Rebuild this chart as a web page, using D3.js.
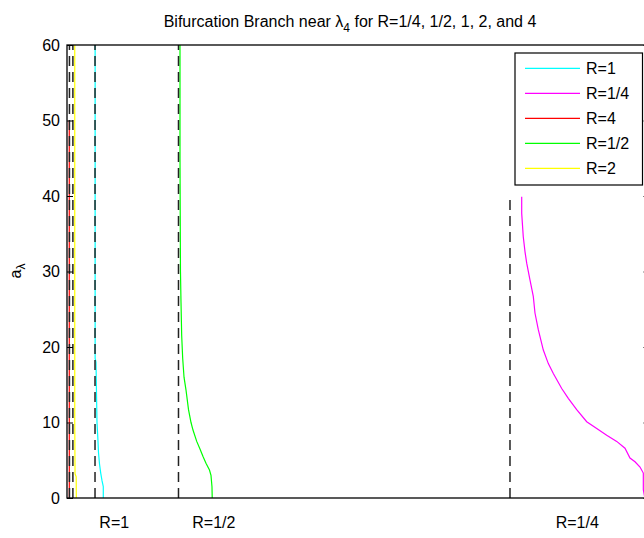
<!DOCTYPE html>
<html><head><meta charset="utf-8">
<script src="https://cdn.jsdelivr.net/npm/d3@7"></script>
<style>
body{margin:0;background:#fff}
svg{display:block}
text{font-family:Arial,"Liberation Sans",Helvetica,sans-serif;fill:#000}
</style>
</head><body>
<svg id="chart" width="644" height="538"></svg>
<script>
// ---------- data ----------
const yTicks = [0, 10, 20, 30, 40, 50, 60];
const seriesNames = ["R=1", "R=1/4", "R=4", "R=1/2", "R=2"];
const seriesColors = ["#00ffff", "#ff00ff", "#ff0000", "#00ff00", "#ffff00"];

// R=1 branch (cyan)
const r1Lambda = [4.83, 4.83, 4.98, 5.06, 5.15, 5.29, 5.41, 5.58, 5.79, 6.01, 6.23, 6.23];
const r1A      = [62, 18.5, 18, 14, 10, 8, 6, 4.5, 3.3, 2.3, 1.5, 0];
// R=1/4 branch (magenta)
const rQuarterLambda = [78.06, 78.06, 78.33, 78.63, 78.92, 79.48, 80.05, 80.34, 80.91, 81.77, 82.63, 83.49, 84.93, 86.06, 87.50, 89.22, 90.94, 92.65, 94.37, 95.79, 96.65, 97.51, 98.37, 98.94, 98.94, 99.2];
const rQuarterA      = [39.9, 37.7, 34.6, 32.6, 31.1, 28.9, 26.7, 24.5, 22.3, 19.6, 17.8, 16.5, 14.5, 13.2, 11.7, 10.1, 9.2, 8.3, 7.5, 6.6, 5.3, 4.8, 4.1, 3.3, 1.1, 0];
// R=4 branch (red)
const r4Lambda = [0.39, 0.39, 0.40];
const r4A      = [50, 20, 0];
// R=1/2 branch (green)
const rHalfLambda = [19.40, 19.40, 19.48, 19.57, 19.69, 19.86, 20.09, 20.43, 20.86, 21.29, 21.63, 22.27, 22.83, 23.35, 23.86, 24.46, 24.72, 24.89, 24.93];
const rHalfA      = [62, 45, 30, 26, 21.5, 18.5, 16, 14.3, 11.7, 10, 9, 7.5, 6.5, 5.5, 4.6, 3.7, 3.0, 1.5, 0];
// R=2 branch (yellow)
const r2Lambda = [1.33, 1.33, 1.38, 1.58, 1.60];
const r2A      = [62, 10, 3.2, 2.8, 0];

// bifurcation points (dashed asymptotes)
const asymptoteNames  = ["R=4", "R=2", "R=1", "R=1/2", "R=1/4"];
const asymptoteLambda = [0.42, 1.01, 4.81, 19.14, 76.05];
const asymptoteTop    = [62, 62, 62, 62, 39.5];

// labels under the axis (left edge position)
const axisLabelText   = ["R=1", "R=1/2", "R=1/4"];
const axisLabelLambda = [5.55, 21.5, 83.9];

// ---------- layout ----------
const m = {left: 67, top: 45, right: 649.5, bottom: 498};
const svg = d3.select("#chart");

const x = d3.scaleLinear().domain([0, 100]).range([m.left, m.right]);
const y = d3.scaleLinear().domain([0, 60]).range([m.bottom, m.top]);

svg.append("defs").append("clipPath").attr("id", "clip")
  .append("rect").attr("x", m.left).attr("y", m.top)
  .attr("width", m.right - m.left).attr("height", m.bottom - m.top);

const plot = svg.append("g").attr("clip-path", "url(#clip)");
const line = d3.line().x(d => x(d[0])).y(d => y(d[1]));

const series = [
  [r1Lambda, r1A], [rQuarterLambda, rQuarterA], [r4Lambda, r4A],
  [rHalfLambda, rHalfA], [r2Lambda, r2A]
];
series.forEach((s, i) => {
  const pts = s[0].map((v, j) => [v, s[1][j]]);
  plot.append("path").attr("d", line(pts))
    .attr("fill", "none").attr("stroke", seriesColors[i]).attr("stroke-width", 1.2);
});

asymptoteLambda.forEach((v, i) => {
  plot.append("path").attr("d", line([[v, 0], [v, asymptoteTop[i]]]))
    .attr("fill", "none").attr("stroke", "#222").attr("stroke-width", 1.5)
    .attr("stroke-dasharray", "10,6");
});

// axes
const yAxisL = d3.axisLeft(y).tickValues(yTicks).tickSizeInner(-6).tickSizeOuter(0).tickPadding(7);
const gL = svg.append("g").attr("transform", `translate(${m.left},0)`).call(yAxisL);
gL.select(".domain").remove();
gL.selectAll(".tick line").attr("stroke", "#000");
gL.selectAll(".tick text").attr("font-size", 16).attr("font-family", "Arial, 'Liberation Sans', sans-serif").attr("fill", "#000");

const yAxisR = d3.axisRight(y).tickValues(yTicks).tickSizeInner(-6).tickSizeOuter(0).tickFormat("");
const gR = svg.append("g").attr("transform", `translate(${m.right},0)`).call(yAxisR);
gR.select(".domain").remove();
gR.selectAll(".tick line").attr("stroke", "#000");

svg.append("rect").attr("x", m.left).attr("y", m.top)
  .attr("width", m.right - m.left).attr("height", m.bottom - m.top)
  .attr("fill", "none").attr("stroke", "#000").attr("stroke-width", 1.3);

// labels under axis
axisLabelText.forEach((t, i) => {
  svg.append("text").attr("x", x(axisLabelLambda[i])).attr("y", 528)
    .attr("text-anchor", "start").attr("font-size", 16).text(t);
});

// title
const title = svg.append("text").attr("x", 350).attr("y", 27)
  .attr("text-anchor", "middle").attr("font-size", 16);
title.append("tspan").text("Bifurcation Branch near λ");
title.append("tspan").attr("dy", 5).attr("font-size", 12).text("4");
title.append("tspan").attr("dy", -5).text(" for R=1/4, 1/2, 1, 2, and 4");

// y label
const yl = svg.append("text").attr("transform", "translate(21,271) rotate(-90)")
  .attr("text-anchor", "middle").attr("font-size", 16);
yl.append("tspan").text("a");
yl.append("tspan").attr("dy", 4).attr("font-size", 12).text("λ");

// legend
const lg = svg.append("g");
lg.append("rect").attr("x", 515).attr("y", 53).attr("width", 127.5).attr("height", 132)
  .attr("fill", "#fff").attr("stroke", "#000").attr("stroke-width", 1.2);
seriesNames.forEach((n, i) => {
  const yy = 68.3 + i * 25;
  lg.append("line").attr("x1", 525).attr("x2", 580).attr("y1", yy).attr("y2", yy)
    .attr("stroke", seriesColors[i]).attr("stroke-width", 1.2);
  lg.append("text").attr("x", 586).attr("y", yy + 6).attr("font-size", 16).text(n);
});
</script>
</body></html>
